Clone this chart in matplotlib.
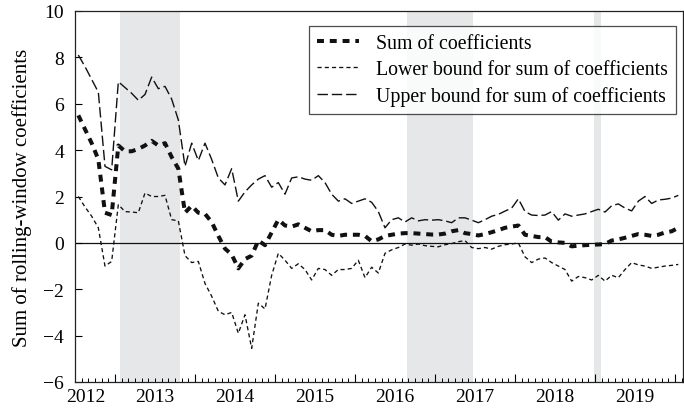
import numpy as np
import pandas as pd
import matplotlib
matplotlib.use('Agg')
import matplotlib.pyplot as plt
import matplotlib.transforms as mtransforms

plt.rcParams['font.family'] = ['Liberation Serif', 'DejaVu Serif']
plt.rcParams['lines.scale_dashes'] = False

# monthly observations, Jul 2012 - Jan 2020
months = pd.period_range('2012-07', '2020-01', freq='M')

sum_coef = [5.5, 4.9, 4.3, 3.6, 1.3, 1.2,
            4.2, 3.95, 3.95, 4.05, 4.2, 4.4, 4.2, 4.3, 3.7, 3.2, 1.3, 1.6,
            1.3, 1.25, 0.9, 0.3, -0.25, -0.5, -1.1, -0.7, -0.55, 0.1, -0.1, 0.45,
            1.0, 0.75, 0.7, 0.8, 0.65, 0.5, 0.55, 0.55, 0.35, 0.3, 0.35, 0.35,
            0.35, 0.3, 0.07, 0.15, 0.3, 0.35, 0.4, 0.42, 0.42, 0.4, 0.38, 0.36,
            0.36, 0.4, 0.5, 0.55, 0.42, 0.38, 0.32, 0.38, 0.46, 0.55, 0.65, 0.7,
            0.75, 0.35, 0.3, 0.25, 0.25, 0.05, 0.02, 0.0, -0.15, -0.12, -0.1, -0.08,
            -0.07, -0.05, 0.1, 0.15, 0.22, 0.3, 0.38, 0.35, 0.3, 0.35, 0.45, 0.5,
            0.65]

lower = [2.0, 1.55, 1.15, 0.65, -1.0, -0.8,
         1.65, 1.35, 1.33, 1.3, 2.15, 2.0, 2.0, 2.05, 1.0, 0.95, -0.55, -0.85,
         -0.8, -1.75, -2.3, -2.95, -3.1, -3.0, -3.9, -3.1, -4.55, -2.6, -2.85, -1.4,
         -0.45, -0.75, -1.1, -0.9, -1.15, -1.6, -1.1, -1.15, -1.4, -1.15, -1.15, -1.1,
         -0.75, -1.5, -1.05, -1.3, -0.45, -0.3, -0.2, -0.05, -0.1, -0.05, -0.12, -0.15,
         -0.17, -0.08, -0.03, 0.05, 0.1, -0.2, -0.25, -0.2, -0.27, -0.15, -0.08, -0.05,
         0.0, -0.6, -0.85, -0.7, -0.65, -0.85, -1.0, -1.15, -1.65, -1.45, -1.5, -1.6,
         -1.4, -1.65, -1.4, -1.5, -1.15, -0.85, -0.95, -1.0, -1.1, -1.05, -1.0, -0.97,
         -0.93]

upper = [8.1, 7.6, 7.05, 6.5, 3.3, 3.15,
         6.95, 6.7, 6.45, 6.15, 6.4, 7.15, 6.65, 6.75, 6.2, 5.3, 3.3, 4.3,
         3.55, 4.3, 3.6, 2.8, 2.5, 3.2, 1.8, 2.2, 2.5, 2.75, 2.9, 2.4,
         2.6, 2.1, 2.8, 2.85, 2.75, 2.7, 2.9, 2.6, 2.1, 1.8, 1.9, 1.7,
         1.8, 1.9, 1.75, 1.35, 0.65, 1.0, 1.08, 0.9, 1.08, 0.95, 1.0, 0.98,
         1.0, 0.95, 0.87, 1.08, 1.08, 0.98, 0.87, 1.0, 1.15, 1.23, 1.37, 1.5,
         1.9, 1.35, 1.2, 1.18, 1.2, 1.35, 0.98, 1.25, 1.15, 1.2, 1.25, 1.35,
         1.45, 1.33, 1.6, 1.68, 1.5, 1.38, 1.8, 2.0, 1.7, 1.85, 1.88, 1.93,
         2.05]

# shaded periods (decimal years)
shade_start = [2013.06, 2016.65, 2018.99]
shade_end = [2013.81, 2017.47, 2019.08]

years = [2012, 2013, 2014, 2015, 2016, 2017, 2018, 2019]
year_label_pos = [2012.64, 2013.5, 2014.5, 2015.5, 2016.5, 2017.5, 2018.5, 2019.5]

x = np.array([p.year + (p.month - 0.5) / 12.0 for p in months])

fig = plt.figure(figsize=(6.84, 4.14), dpi=100)
ax = fig.add_axes([75 / 684, 31 / 414, 608 / 684, 371 / 414])

for s, e in zip(shade_start, shade_end):
    ax.axvspan(s, e, color='#e6e7e9', lw=0, zorder=0)

ax.axhline(0, color='#111111', lw=0.9, zorder=1)

ax.plot(x, sum_coef, color='#111111', lw=2.9, dashes=(5, 4.2),
        label='Sum of coefficients', zorder=3)
ax.plot(x, lower, color='#111111', lw=0.95, dashes=(3, 2.2),
        label='Lower bound for sum of coefficients', zorder=2)
ax.plot(x, upper, color='#111111', lw=1.0, dashes=(7.5, 2.8),
        label='Upper bound for sum of coefficients', zorder=2)

ax.set_xlim(2012.5, 2020.1)
ax.set_ylim(-6, 10)
ax.set_yticks(np.arange(-6, 11, 2))
ax.tick_params(axis='y', direction='in', length=5, width=0.8, pad=8,
               labelsize=14, right=False)
ax.set_xticks(np.arange(2013, 2021))
ax.set_xticklabels([])
ax.set_xticks(np.arange(2012.5, 2020.1, 1 / 12.0), minor=True)
ax.tick_params(axis='x', which='major', direction='in', length=6, width=0.8)
ax.tick_params(axis='x', which='minor', direction='in', length=3, width=0.7)

trans = mtransforms.blended_transform_factory(ax.transData, ax.transAxes)
for pos, yr in zip(year_label_pos, years):
    ax.text(pos, -0.016, str(yr), transform=trans, ha='center', va='top',
            fontsize=14)

for sp in ax.spines.values():
    sp.set_linewidth(0.9)
    sp.set_color('#222222')

ax.set_ylabel('Sum of rolling-window coefficients', fontsize=15, labelpad=8)

leg = ax.legend(loc='upper right', bbox_to_anchor=(0.988, 0.96),
                borderaxespad=0, fontsize=14.3, frameon=True, fancybox=False,
                edgecolor='#222222', handlelength=2.1, handletextpad=0.85,
                labelspacing=0.36, borderpad=0.4)
leg.get_frame().set_linewidth(0.9)

fig.savefig('out.png', dpi=100)
